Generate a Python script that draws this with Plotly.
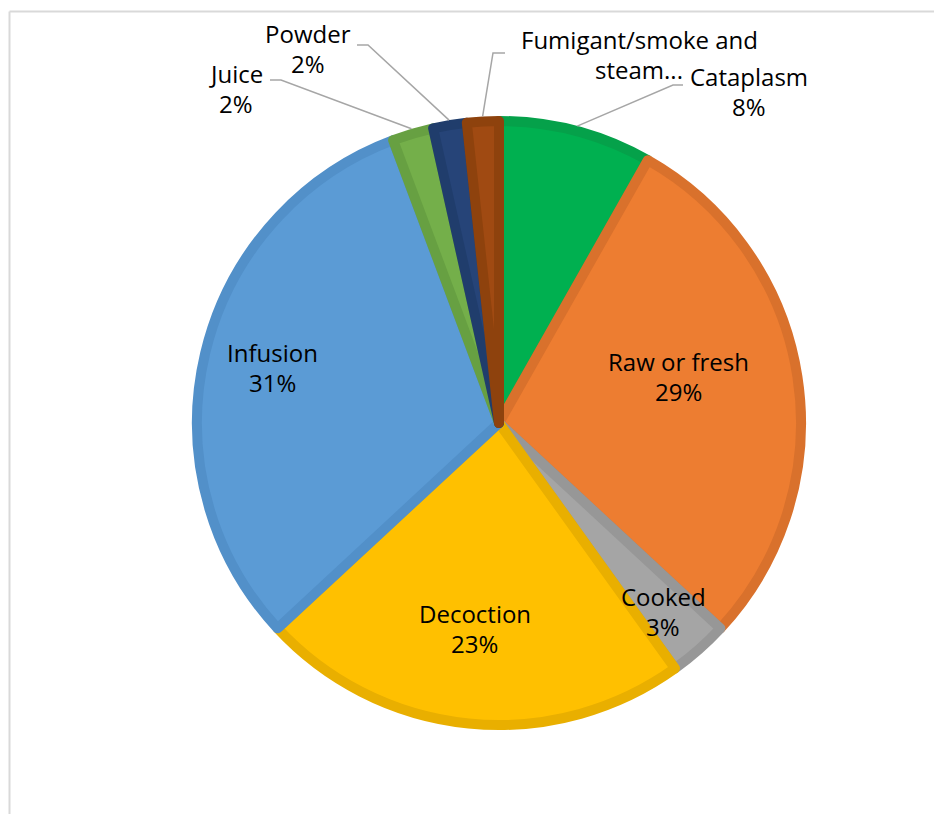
import math
import plotly.graph_objects as go

# Preparation methods and their share of reported uses (%)
categories = ["Cataplasm", "Raw or fresh", "Cooked", "Decoction", "Infusion",
              "Juice", "Powder", "Fumigant/smoke and steam..."]
shares = [8.2, 28.7, 3.2, 23.0, 31.2, 2.2, 1.8, 1.7]

fill_colors = ["#00B050", "#ED7D31", "#A5A5A5", "#FFC000", "#5B9BD5",
               "#74AF4A", "#264478", "#A04A12"]
edge_colors = ["#05A14A", "#D9712C", "#979797", "#E9AF00", "#5290C9",
               "#67A042", "#203D6C", "#8E420D"]

W, H = 934, 814
CX, CY = 499, 423          # pie centre (px)
R_FILL = 302               # pie radius to the middle of the slice edge
EDGE_W = 10
R_OUT = R_FILL + EDGE_W / 2
LINE_GAP = 30              # distance between the two lines of a label (px)


def px(x, y):
    return x / W, 1 - y / H


fig = go.Figure()
fig.add_trace(go.Pie(
    labels=categories,
    values=shares,
    sort=False,
    direction="clockwise",
    rotation=0,
    textinfo="none",
    hoverinfo="label+percent",
    marker=dict(colors=fill_colors, line=dict(color=edge_colors, width=EDGE_W)),
    domain=dict(x=[(CX - R_FILL) / W, (CX + R_FILL) / W],
                y=[1 - (CY + R_FILL) / H, 1 - (CY - R_FILL) / H]),
    showlegend=False,
))

total = sum(shares)
pct = [f"{round(v / total * 100)}%" for v in shares]

# mid-angle of each slice, clockwise from 12 o'clock
mid_angles = []
acc = 0.0
for v in shares:
    mid_angles.append((acc + v / 2) / total * 2 * math.pi)
    acc += v

FONT = dict(family="Open Sans, Noto Sans, sans-serif", size=24, color="#000000")

annotations = []


def add_label(lines, x, y):
    # y is the centre of the first line
    for k, t in enumerate(lines):
        ax, ay = px(x, y + k * LINE_GAP)
        annotations.append(dict(x=ax, y=ay, xref="paper", yref="paper", text=t,
                                showarrow=False, font=FONT, xanchor="center",
                                yanchor="middle"))


# labels drawn on the slices: (index, x px, first-line y px)
inside_labels = [(1, 678, 361), (2, 663, 596), (3, 475, 613), (4, 272, 352)]
for i, x, y in inside_labels:
    add_label([categories[i], pct[i]], x, y)

# labels placed outside with leader lines: (index, lines, label x/y, elbow, line start)
outside_labels = [
    (0, [categories[0], pct[0]], (749, 76), (683, 85), (673, 85)),
    (5, [categories[5], pct[5]], (236, 73), (270, 80), (281, 80)),
    (6, [categories[6], pct[6]], (308, 33), (357, 45), (368, 45)),
    (7, ["Fumigant/smoke and", "steam..."], (639, 40), (505, 53), (493, 53)),
]
shapes = []
for i, lines, (lx, ly), (sx, sy), (ex, ey) in outside_labels:
    add_label(lines, lx, ly)
    a = mid_angles[i]
    tx = CX + R_OUT * math.sin(a)
    ty = CY - R_OUT * math.cos(a)
    pts = [(sx, sy), (ex, ey), (tx, ty)]
    path = "M " + " L ".join(f"{px(x, y)[0]},{px(x, y)[1]}" for x, y in pts)
    shapes.append(dict(type="path", xref="paper", yref="paper", path=path,
                       line=dict(color="#A6A6A6", width=1.5)))

# chart-area frame: left and top edges
fx0, fy1 = px(9.5, 11.5)
shapes.append(dict(type="line", xref="paper", yref="paper", x0=fx0, y0=0,
                   x1=fx0, y1=fy1, line=dict(color="#D9D9D9", width=2),
                   layer="below"))
shapes.append(dict(type="line", xref="paper", yref="paper", x0=fx0, y0=fy1,
                   x1=1, y1=fy1, line=dict(color="#D9D9D9", width=2),
                   layer="below"))

fig.update_layout(
    width=W, height=H,
    margin=dict(l=0, r=0, t=0, b=0),
    paper_bgcolor="white",
    plot_bgcolor="white",
    annotations=annotations,
    shapes=shapes,
)

fig.write_html("out.html")
